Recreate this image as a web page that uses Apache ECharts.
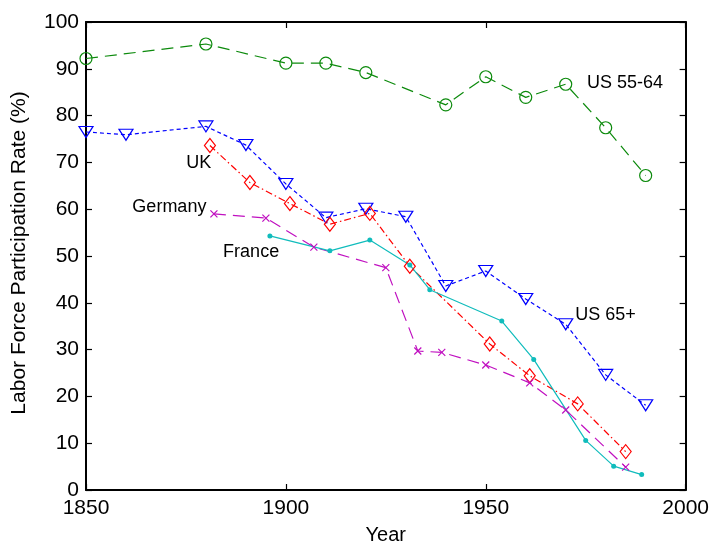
<!DOCTYPE html>
<html>
<head>
<meta charset="utf-8">
<script src="https://cdn.jsdelivr.net/npm/echarts@6/dist/echarts.min.js"></script>
<style>
  html, body { margin: 0; padding: 0; background: #fff; }
  #chart { width: 712px; height: 550px; }
</style>
</head>
<body>
<div id="chart"></div>
<script>
// Labor force participation rate of older men, by country and year
const us5564Years = [1850, 1880, 1900, 1910, 1920, 1940, 1950, 1960, 1970, 1980, 1990];
const us5564Rate  = [92.2, 95.3, 91.2, 91.2, 89.2, 82.3, 88.3, 83.9, 86.7, 77.4, 67.2];

const us65Years = [1850, 1860, 1880, 1890, 1900, 1910, 1920, 1930, 1940, 1950, 1960, 1970, 1980, 1990];
const us65Rate  = [76.5, 75.9, 77.7, 73.7, 65.4, 58.2, 60.1, 58.4, 43.6, 46.8, 40.8, 35.4, 24.6, 18.1];

const ukYears = [1881, 1891, 1901, 1911, 1921, 1931, 1951, 1961, 1973, 1985];
const ukRate  = [73.6, 65.7, 61.2, 56.8, 59.1, 47.8, 31.2, 24.4, 18.4, 8.2];

const germanyYears = [1882, 1895, 1907, 1925, 1933, 1939, 1950, 1961, 1970, 1985];
const germanyRate  = [59.0, 58.1, 51.9, 47.5, 29.7, 29.4, 26.7, 22.9, 17.1, 4.9];

const franceYears = [1896, 1911, 1921, 1931, 1936, 1954, 1962, 1975, 1982, 1989];
const franceRate  = [54.3, 51.1, 53.4, 48.1, 42.8, 36.1, 27.9, 10.6, 5.1, 3.3];

const xTicks = { min: 1850, max: 2000, step: 50 };
const yTicks = { min: 0, max: 100, step: 10 };

// Text annotations placed next to each curve (data coordinates, left edge / middle)
const curveNotes = [
  { text: 'US 55-64', at: [1975.3, 87.0] },
  { text: 'UK',       at: [1875.1, 69.8] },
  { text: 'Germany',  at: [1861.6, 60.5] },
  { text: 'France',   at: [1884.3, 50.8] },
  { text: 'US 65+',   at: [1972.4, 37.3] }
];

const FONT = '"Liberation Sans", Arial, Helvetica, sans-serif';

function pairs(xs, ys) { return xs.map((x, i) => [x, ys[i]]); }

function frameAxis(extra) {
  return Object.assign({
    type: 'value',
    splitLine: { show: false },
    axisLine: { show: true, onZero: false, lineStyle: { color: '#000', width: 2 } },
    axisTick: { show: true, inside: true, length: 6, lineStyle: { color: '#000', width: 1.2 } },
    axisLabel: { show: false }
  }, extra);
}

const tickLabel = {
  show: true, color: '#000', fontSize: 21, fontFamily: FONT, margin: 8,
  formatter: v => String(v)
};

const chart = echarts.init(document.getElementById('chart'), null, { renderer: 'canvas' });

const option = {
  animation: false,
  backgroundColor: '#fff',
  grid: { left: 86, right: 25, top: 22, bottom: 54, containLabel: false },
  xAxis: [
    frameAxis({
      position: 'bottom', min: xTicks.min, max: xTicks.max, interval: xTicks.step,
      axisLabel: Object.assign({}, tickLabel, { margin: 8 }),
      name: 'Year', nameLocation: 'middle', nameGap: 35,
      nameTextStyle: { color: '#000', fontSize: 20, fontFamily: FONT }
    }),
    frameAxis({ position: 'top', min: xTicks.min, max: xTicks.max, interval: xTicks.step })
  ],
  yAxis: [
    frameAxis({
      position: 'left', min: yTicks.min, max: yTicks.max, interval: yTicks.step,
      axisLabel: Object.assign({}, tickLabel, { margin: 7 }),
      name: 'Labor Force Participation Rate (%)', nameLocation: 'middle', nameGap: 56,
      nameRotate: 90,
      nameTextStyle: { color: '#000', fontSize: 21, fontFamily: FONT, padding: [0, 0, 0, 6] }
    }),
    frameAxis({ position: 'right', min: yTicks.min, max: yTicks.max, interval: yTicks.step })
  ],
  series: [
    {
      name: 'US 55-64', type: 'line', data: pairs(us5564Years, us5564Rate),
      lineStyle: { color: '#0c8a0c', width: 1.2, type: [12, 7] },
      symbol: 'circle', symbolSize: 12,
      itemStyle: { color: 'rgba(0,0,0,0)', borderColor: '#0c8a0c', borderWidth: 1.2 }
    },
    {
      name: 'US 65+', type: 'line', data: pairs(us65Years, us65Rate),
      lineStyle: { color: '#0000ff', width: 1.2, type: [4, 3] },
      symbol: 'triangle', symbolRotate: 180, symbolSize: [14, 11],
      itemStyle: { color: 'rgba(0,0,0,0)', borderColor: '#0000ff', borderWidth: 1.2 }
    },
    {
      name: 'UK', type: 'line', data: pairs(ukYears, ukRate),
      lineStyle: { color: '#ff0000', width: 1.2, type: [7, 3, 1.5, 3] },
      symbol: 'diamond', symbolSize: [11, 14],
      itemStyle: { color: 'rgba(0,0,0,0)', borderColor: '#ff0000', borderWidth: 1.2 }
    },
    {
      name: 'Germany', type: 'line', data: pairs(germanyYears, germanyRate),
      lineStyle: { color: '#c010c0', width: 1.2, type: [12, 7] },
      symbol: 'path://M0,0L10,10M10,0L0,10', symbolSize: 7,
      itemStyle: { color: 'rgba(0,0,0,0)', borderColor: '#c010c0', borderWidth: 1.2 }
    },
    {
      name: 'France', type: 'line', data: pairs(franceYears, franceRate),
      lineStyle: { color: '#10bcbc', width: 1.2, type: 'solid' },
      symbol: 'circle', symbolSize: 5,
      itemStyle: { color: '#10bcbc', borderWidth: 0 }
    }
  ]
};

chart.setOption(option);

// Curve annotations, positioned through the grid's coordinate system
chart.setOption({
  graphic: curveNotes.map(n => {
    const p = chart.convertToPixel({ gridIndex: 0 }, n.at);
    return {
      type: 'text', x: p[0], y: p[1], z: 10,
      style: { text: n.text, fill: '#000', fontSize: 18, fontFamily: FONT, align: 'left', verticalAlign: 'middle' }
    };
  })
});
</script>
</body>
</html>
